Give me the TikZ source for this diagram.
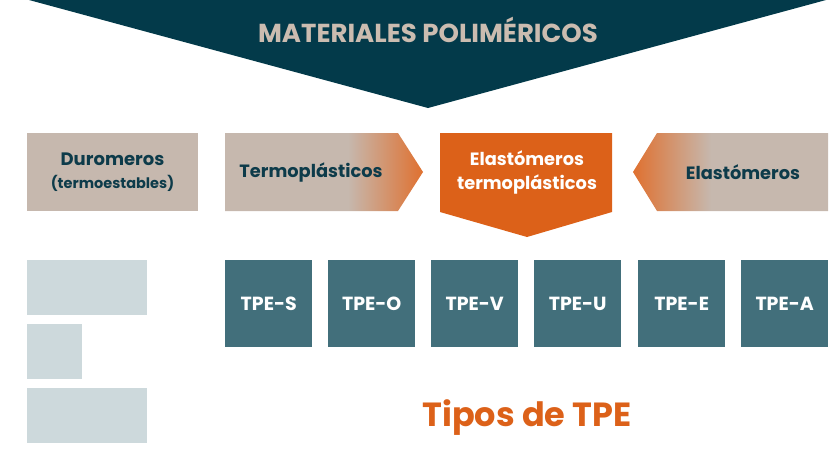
\documentclass[tikz,border=0pt]{standalone}
\usepackage{fontspec}
\setmainfont{Poppins}
\definecolor{darkteal}{HTML}{033A4A}
\definecolor{beige}{HTML}{C6B8AE}
\definecolor{titlebeige}{HTML}{CBBCB0}
\definecolor{txtdark}{HTML}{0D3B4A}
\definecolor{orng}{HTML}{DC6119}
\definecolor{tpeteal}{HTML}{426F7B}
\definecolor{lgray}{HTML}{CDD9DC}
\pgfdeclarehorizontalshading{termoshade}{100bp}{color(0bp)=(beige); color(56bp)=(beige); color(75bp)=(orng!90!white); color(100bp)=(orng!90!white)}
\pgfdeclarehorizontalshading{elastshade}{100bp}{color(0bp)=(orng!90!white); color(25bp)=(orng!90!white); color(45bp)=(beige); color(100bp)=(beige)}
\tikzset{
  lbl/.style={font=\bfseries\fontsize{17.8}{24}\selectfont, text=txtdark, align=center, inner sep=0pt},
  tpebox/.style={fill=tpeteal, minimum width=87pt, minimum height=87pt, anchor=north west, inner sep=0pt, text=white, font=\bfseries\fontsize{19}{22}\selectfont},
  graybox/.style={fill=lgray, anchor=north west, inner sep=0pt},
}
\begin{document}
\begin{tikzpicture}[x=1pt,y=-1pt]
\useasboundingbox (0,0) rectangle (836,450);
% top
\fill[darkteal] (29,0) -- (826,0) -- (428,108) -- cycle;
\node[font=\bfseries\fontsize{26}{30}\selectfont, text=titlebeige] (title) at (428,30) {MATERIALES POLIMÉRICOS};
% second row
\fill[beige] (27,133) rectangle (198,211);
\node[lbl, font=\bfseries\fontsize{18}{23}\selectfont] (duro) at (112.5,172) {Duromeros\\{\fontsize{14.5}{23}\selectfont (termoestables)}};
\shade[shading=termoshade] (225,133) -- (398,133) -- (423,172) -- (398,211) -- (225,211) -- cycle;
\node[lbl] (termo) at (311,172) {Termoplásticos};
\fill[orng] (440,133) -- (612,133) -- (612,212) -- (527,237) -- (440,212) -- cycle;
\node[lbl, text=white] (tpe) at (527,172) {Elastómeros\\termoplásticos};
\shade[shading=elastshade] (633,172) -- (657,133) -- (828,133) -- (828,211) -- (657,211) -- cycle;
\node[lbl] (elast) at (743,172) {Elastómeros};
% tpe boxes
\node[tpebox] (s) at (225,260) {TPE-S};
\node[tpebox] (o) at (328,260) {TPE-O};
\node[tpebox] (v) at (431,260) {TPE-V};
\node[tpebox] (u) at (534,260) {TPE-U};
\node[tpebox] (e) at (638,260) {TPE-E};
\node[tpebox] (a) at (741,260) {TPE-A};
% gray boxes
\node[graybox, minimum width=120pt, minimum height=55pt] (g1) at (27,260) {};
\node[graybox, minimum width=55pt, minimum height=55pt] (g2) at (27,324) {};
\node[graybox, minimum width=120pt, minimum height=55pt] (g3) at (27,388) {};
% caption
\node[font=\bfseries\fontsize{33.5}{38}\selectfont, text=orng] (tipos) at (527,418) {Tipos de TPE};
\end{tikzpicture}
\end{document}
